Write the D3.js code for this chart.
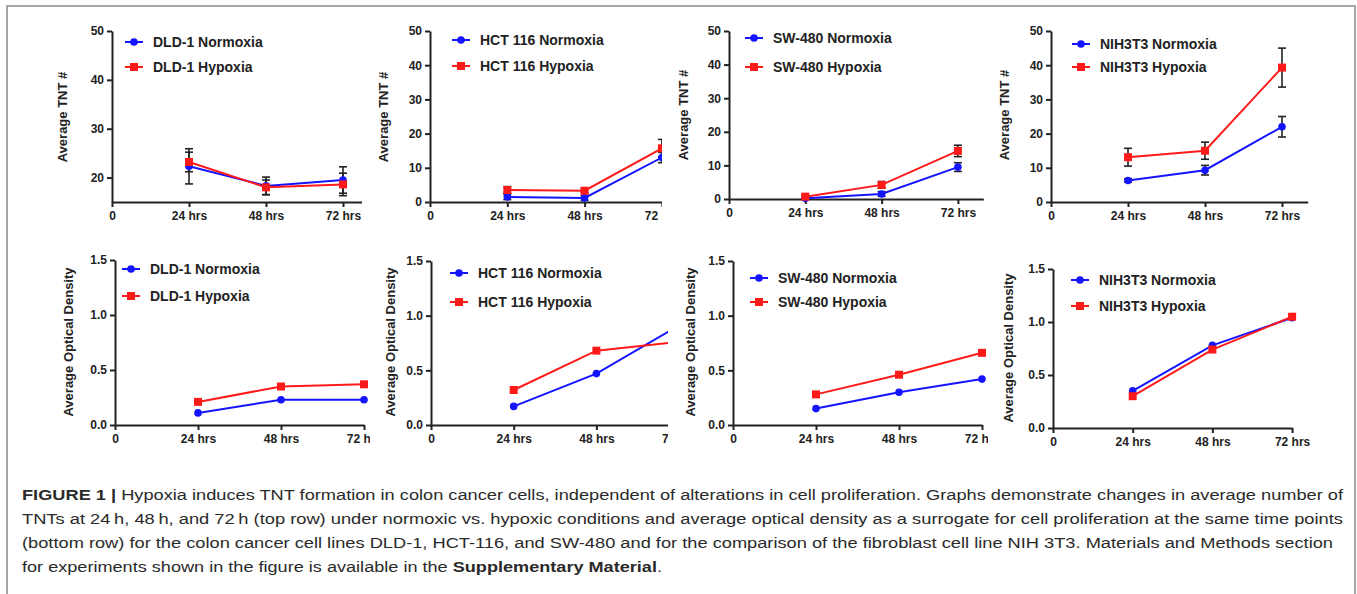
<!DOCTYPE html>
<html>
<head>
<meta charset="utf-8">
<script src="https://cdn.jsdelivr.net/npm/d3@7"></script>
<style>
  body { margin: 0; background: #fff; }
  .tick text { font-family: "Liberation Sans", Arial, sans-serif; font-weight: bold; font-size: 12px; fill: #222; }
  .axisLabel { font-family: "Liberation Sans", Arial, sans-serif; font-weight: bold; font-size: 13px; fill: #222; }
  .legendText { font-family: "Liberation Sans", Arial, sans-serif; font-weight: bold; font-size: 14px; fill: #222; }
  .caption { font-family: "Liberation Sans", Arial, sans-serif; font-size: 15.5px; fill: #2a2a2a; }
</style>
</head>
<body>
<script>
// Data
// ================================
var timepoints = [24, 48, 72];
var xTickValues = [0, 24, 48, 72];
var xTickLabels = ["0", "24 hrs", "48 hrs", "72 hrs"];
var cellLines = ["DLD-1", "HCT 116", "SW-480", "NIH3T3"];

// top row: average TNT #
var tntNormoxia    = [[22.3, 18.3, 19.5], [1.5, 1.2, 13.0], [0.2, 1.5, 9.5], [6.3, 9.3, 22.0]];
var tntNormoxiaErr = [[3.6, 1.8, 2.7],    [0.8, 0.7, 1.5],  [0.3, 0.7, 1.3], [0.5, 1.4, 3.0]];
var tntHypoxia     = [[23.2, 18.0, 18.6], [3.5, 3.3, 15.7], [0.7, 4.2, 14.3], [13.1, 15.0, 39.3]];
var tntHypoxiaErr  = [[2.0, 1.5, 2.3],    [1.0, 0.7, 2.6],  [0.4, 1.0, 1.7], [2.6, 2.5, 5.7]];
var tntTicks = [[20, 30, 40, 50], [0, 10, 20, 30, 40, 50], [0, 10, 20, 30, 40, 50], [0, 10, 20, 30, 40, 50]];
var tntDomains = [[15, 50], [0, 50], [0, 50], [0, 50]];

// bottom row: average optical density
var odNormoxia = [[0.11, 0.23, 0.23], [0.17, 0.47, 0.91], [0.15, 0.30, 0.42], [0.35, 0.78, 1.04]];
var odHypoxia  = [[0.21, 0.35, 0.37], [0.32, 0.68, 0.76], [0.28, 0.46, 0.66], [0.30, 0.74, 1.05]];
var odTicks = [0, 0.5, 1.0, 1.5];

// Layout of the eight panels (pixel geometry only)
// ================================
var topLayout = [
  {ax: 112, per24: 77.0, yb: 202, yt: 31, xEnd: 78, clipR: 362, labX: 62,   labY: 117, legX: 125,  legY: [42, 67]},
  {ax: 430, per24: 77.3, yb: 202, yt: 31, xEnd: 76, clipR: 662, labX: 383,  labY: 117, legX: 452,  legY: [40, 66]},
  {ax: 729, per24: 76.3, yb: 199, yt: 31, xEnd: 80, clipR: 1005, labX: 683, labY: 115, legX: 745,  legY: [38, 67]},
  {ax: 1051, per24: 77.0, yb: 202, yt: 31, xEnd: 80, clipR: 1350, labX: 1004, labY: 115, legX: 1072, legY: [44, 67]}
];
var bottomLayout = [
  {ax: 115, per24: 83.0, yb: 425, yt: 260, xEnd: 72, clipR: 370, labX: 68,   labY: 342, legX: 122,  legY: [269, 296]},
  {ax: 431, per24: 82.7, yb: 425, yt: 261, xEnd: 72, clipR: 668, labX: 390,  labY: 342, legX: 450,  legY: [273, 302]},
  {ax: 733, per24: 83.0, yb: 425, yt: 261, xEnd: 72, clipR: 988, labX: 690,  labY: 342, legX: 750,  legY: [278, 302]},
  {ax: 1053, per24: 79.7, yb: 428, yt: 269, xEnd: 72, clipR: 1350, labX: 1008, labY: 348, legX: 1071, legY: [280, 306]}
];

var blue = "#1414ff";
var red = "#ff1a1a";
var ink = "#222";

var svg = d3.select("body")
  .append("svg")
  .attr("width", 1357)
  .attr("height", 594);

// figure frame
svg.append("rect")
  .attr("x", 7).attr("y", 6)
  .attr("width", 1348).attr("height", 610)
  .attr("fill", "none")
  .attr("stroke", "#8a8a8a")
  .attr("stroke-width", 1.5);

var defs = svg.append("defs");

function drawPanel(id, L, series, yDomain, yTicks, yFmt, yLabel) {
  defs.append("clipPath").attr("id", id)
    .append("rect")
    .attr("x", L.ax - 90).attr("y", 0)
    .attr("width", L.clipR - (L.ax - 90)).attr("height", 594);

  var g = svg.append("g").attr("clip-path", `url(#${id})`);

  var x = d3.scaleLinear()
    .domain([0, L.xEnd])
    .range([L.ax, L.ax + L.per24 * L.xEnd / 24]);

  var y = d3.scaleLinear()
    .domain(yDomain)
    .range([L.yb, L.yt]);

  // axes
  var leftAxis = d3.axisLeft(y)
    .tickValues(yTicks)
    .tickFormat(yFmt)
    .tickSizeInner(5)
    .tickSizeOuter(0)
    .tickPadding(3);

  var bottomAxis = d3.axisBottom(x)
    .tickValues(xTickValues)
    .tickFormat((d, i) => xTickLabels[i])
    .tickSizeInner(5)
    .tickSizeOuter(0)
    .tickPadding(4);

  var yg = g.append("g")
    .attr("transform", `translate(${L.ax}, 0)`)
    .call(leftAxis);

  var xg = g.append("g")
    .attr("transform", `translate(0, ${L.yb})`)
    .call(bottomAxis);

  [yg, xg].forEach(function(a) {
    a.select(".domain").attr("stroke", ink).attr("stroke-width", 2);
    a.selectAll(".tick line").attr("stroke", ink).attr("stroke-width", 2);
  });

  // y axis title
  g.append("text")
    .attr("class", "axisLabel")
    .attr("transform", `translate(${L.labX}, ${L.labY}) rotate(-90)`)
    .attr("text-anchor", "middle")
    .attr("dy", "0.35em")
    .text(yLabel);

  var line = d3.line()
    .x((d, i) => x(timepoints[i]))
    .y(d => y(d));

  series.forEach(function(s) {
    // error bars
    if (s.err) {
      var eb = g.append("g").attr("stroke", ink).attr("stroke-width", 1.6);
      s.values.forEach(function(v, i) {
        var e = s.err[i];
        var cx = x(timepoints[i]);
        eb.append("line").attr("x1", cx).attr("x2", cx).attr("y1", y(v - e)).attr("y2", y(v + e));
        eb.append("line").attr("x1", cx - 4).attr("x2", cx + 4).attr("y1", y(v - e)).attr("y2", y(v - e));
        eb.append("line").attr("x1", cx - 4).attr("x2", cx + 4).attr("y1", y(v + e)).attr("y2", y(v + e));
      });
    }
  });

  series.forEach(function(s) {
    g.append("path")
      .datum(s.values)
      .attr("fill", "none")
      .attr("stroke", s.color)
      .attr("stroke-width", 2)
      .attr("d", line);

    s.values.forEach(function(v, i) {
      addMarker(g, s.shape, x(timepoints[i]), y(v), s.color);
    });
  });

  // legend
  series.forEach(function(s, k) {
    var ly = L.legY[k];
    g.append("line")
      .attr("x1", L.legX).attr("x2", L.legX + 18)
      .attr("y1", ly).attr("y2", ly)
      .attr("stroke", s.color).attr("stroke-width", 2);
    addMarker(g, s.shape, L.legX + 9, ly, s.color);
    g.append("text")
      .attr("class", "legendText")
      .attr("x", L.legX + 28)
      .attr("y", ly)
      .attr("dy", "0.35em")
      .text(s.name);
  });
}

function addMarker(g, shape, cx, cy, color) {
  if (shape === "circle") {
    g.append("circle").attr("cx", cx).attr("cy", cy).attr("r", 3.8).attr("fill", color);
  } else {
    g.append("rect").attr("x", cx - 4).attr("y", cy - 4).attr("width", 8).attr("height", 8).attr("fill", color);
  }
}

cellLines.forEach(function(name, i) {
  drawPanel("clipTop" + i, topLayout[i], [
    {name: name + " Normoxia", values: tntNormoxia[i], err: tntNormoxiaErr[i], color: blue, shape: "circle"},
    {name: name + " Hypoxia", values: tntHypoxia[i], err: tntHypoxiaErr[i], color: red, shape: "square"}
  ], tntDomains[i], tntTicks[i], d3.format("d"), "Average TNT #");

  drawPanel("clipBot" + i, bottomLayout[i], [
    {name: name + " Normoxia", values: odNormoxia[i], color: blue, shape: "circle"},
    {name: name + " Hypoxia", values: odHypoxia[i], color: red, shape: "square"}
  ], [0, 1.5], odTicks, d3.format(".1f"), "Average Optical Density");
});

// Caption
// ================================
var captionLines = [
  [["FIGURE 1 | ", true], ["Hypoxia induces TNT formation in colon cancer cells, independent of alterations in cell proliferation. Graphs demonstrate changes in average number of", false]],
  [["TNTs at 24\u2009h, 48\u2009h, and 72\u2009h (top row) under normoxic vs. hypoxic conditions and average optical density as a surrogate for cell proliferation at the same time points", false]],
  [["(bottom row) for the colon cancer cell lines DLD-1, HCT-116, and SW-480 and for the comparison of the fibroblast cell line NIH 3T3. Materials and Methods section", false]],
  [["for experiments shown in the figure is available in the ", false], ["Supplementary Material", true], [".", false]]
];
var captionWidths = [1321, 1321, 1311, 640];

captionLines.forEach(function(parts, i) {
  var t = svg.append("text")
    .attr("class", "caption")
    .attr("x", 22)
    .attr("y", 500 + i * 24)
    .attr("textLength", captionWidths[i])
    .attr("lengthAdjust", "spacingAndGlyphs");
  parts.forEach(function(p) {
    t.append("tspan")
      .attr("font-weight", p[1] ? "bold" : "normal")
      .text(p[0]);
  });
});
</script>
</body>
</html>
